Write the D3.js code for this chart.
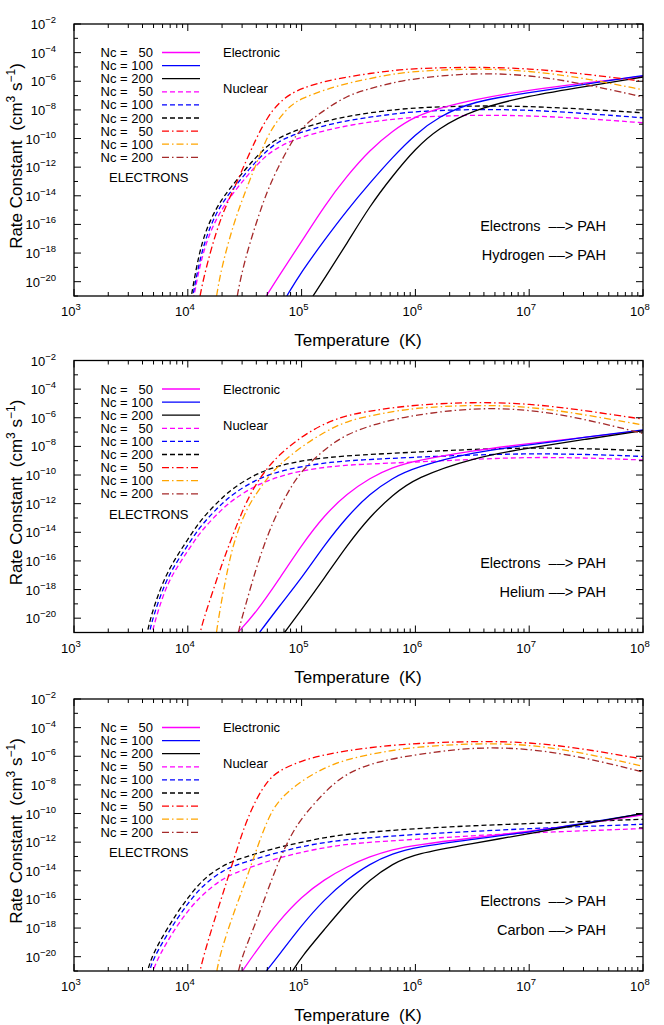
<!DOCTYPE html>
<meta charset="utf-8">
<style>
body { margin: 0; background: #fff; }
text { font-family: "Liberation Sans", Arial, sans-serif; fill: #000; }
.tick-label { font-size: 13px; }
.legend { font-size: 13px; }
.title { font-size: 17px; }
.note { font-size: 14.5px; }
.frame { fill: none; stroke: #000; stroke-width: 1.3; }
.curve { fill: none; stroke-width: 1.3; }
</style>
<svg width="664" height="1025"></svg>
<script src="https://d3js.org/d3.v7.min.js"></script>
<script>

// each series: [log10 T, log10 k] pairs
// panel 1: hydrogen
var hElec50  = [[4.69,-21],[4.8,-19.6],[5.0,-17.2],[5.2,-14.7],[5.4,-12.6],[5.6,-10.8],[5.8,-9.45],[6.0,-8.45],[6.2,-7.9],[6.5,-7.3],[7.0,-6.6],[7.5,-6.1],[8.0,-5.65]];
var hElec100 = [[4.87,-21],[5.0,-19.3],[5.2,-17.1],[5.4,-15.0],[5.6,-13.1],[5.8,-11.3],[6.0,-9.7],[6.2,-8.5],[6.5,-7.4],[7.0,-6.8],[7.5,-6.2],[8.0,-5.6]];
var hElec200 = [[5.1,-21],[5.2,-19.8],[5.4,-17.3],[5.6,-14.7],[5.8,-12.6],[6.0,-10.7],[6.2,-9.3],[6.5,-8.0],[7.0,-7.0],[7.5,-6.35],[8.0,-5.7]];
var hEl50    = [[4.0,-23.5],[4.1,-18.8],[4.2,-16.4],[4.3,-14.9],[4.4,-13.8],[4.5,-12.8],[4.6,-11.9],[4.7,-11.1],[4.8,-10.6],[4.9,-10.2],[5.0,-9.9],[5.2,-9.45],[5.4,-9.1],[5.6,-8.85],[5.8,-8.65],[6.0,-8.5],[6.5,-8.35],[7.0,-8.4],[7.5,-8.6],[8.0,-8.9]];
var hEl100   = [[4.0,-23],[4.1,-18.4],[4.2,-16.0],[4.3,-14.5],[4.4,-13.5],[4.5,-12.5],[4.6,-11.6],[4.7,-10.8],[4.8,-10.2],[4.9,-9.85],[5.0,-9.55],[5.2,-9.1],[5.4,-8.75],[5.6,-8.5],[5.8,-8.3],[6.0,-8.1],[6.5,-7.95],[7.0,-8.0],[7.5,-8.25],[8.0,-8.55]];
var hEl200   = [[4.0,-22.5],[4.1,-17.7],[4.2,-15.6],[4.3,-14.2],[4.4,-13.2],[4.5,-12.2],[4.6,-11.3],[4.7,-10.5],[4.8,-9.95],[4.9,-9.6],[5.0,-9.3],[5.2,-8.8],[5.4,-8.45],[5.6,-8.2],[5.8,-8.0],[6.0,-7.85],[6.5,-7.7],[7.0,-7.75],[7.5,-7.95],[8.0,-8.2]];
var hNuc50   = [[4.05,-24],[4.1,-21],[4.2,-17.8],[4.3,-15.3],[4.4,-13.6],[4.5,-11.8],[4.6,-10.0],[4.7,-8.5],[4.8,-7.5],[4.9,-6.9],[5.0,-6.5],[5.2,-6.0],[5.4,-5.7],[5.6,-5.45],[5.8,-5.25],[6.0,-5.1],[6.5,-5.0],[7.0,-5.1],[7.5,-5.5],[8.0,-6.0]];
var hNuc100  = [[4.2,-24],[4.25,-21],[4.3,-18.9],[4.4,-16.0],[4.5,-13.8],[4.6,-11.8],[4.7,-9.8],[4.8,-8.6],[4.9,-7.7],[5.0,-7.2],[5.2,-6.6],[5.4,-6.15],[5.6,-5.8],[5.8,-5.5],[6.0,-5.3],[6.5,-5.1],[7.0,-5.25],[7.5,-5.8],[8.0,-6.6]];
var hNuc200  = [[4.4,-23],[4.43,-21],[4.5,-18.5],[4.6,-15.9],[4.7,-13.6],[4.8,-11.9],[4.9,-10.4],[5.0,-9.2],[5.2,-8.0],[5.4,-7.0],[5.6,-6.5],[5.8,-6.1],[6.0,-5.8],[6.5,-5.4],[7.0,-5.55],[7.5,-6.2],[8.0,-7.1]];

// panel 2: helium
var heElec50  = [[4.44,-21],[4.6,-19.6],[4.8,-17.3],[5.0,-14.9],[5.2,-12.8],[5.4,-11.3],[5.6,-10.2],[5.8,-9.45],[6.0,-9.0],[6.5,-8.3],[7.0,-7.8],[7.5,-7.35],[8.0,-6.9]];
var heElec100 = [[4.63,-21],[4.8,-19.2],[5.0,-17.2],[5.2,-14.9],[5.4,-12.9],[5.6,-11.3],[5.8,-10.2],[6.0,-9.45],[6.5,-8.4],[7.0,-7.9],[7.5,-7.35],[8.0,-6.85]];
var heElec200 = [[4.85,-21],[5.0,-19.4],[5.2,-17.2],[5.4,-14.9],[5.6,-12.9],[5.8,-11.4],[6.0,-10.2],[6.5,-8.8],[7.0,-8.1],[7.5,-7.5],[8.0,-6.9]];
var heEl50    = [[3.64,-23],[3.68,-21],[3.8,-17.9],[3.9,-16.5],[4.0,-15.3],[4.1,-14.1],[4.2,-13.2],[4.3,-12.4],[4.4,-11.7],[4.6,-10.7],[4.8,-10.1],[5.0,-9.7],[5.25,-9.4],[5.5,-9.25],[6.0,-9.1],[6.5,-8.9],[7.0,-8.75],[7.5,-8.8],[8.0,-8.95]];
var heEl100   = [[3.62,-23],[3.66,-21],[3.7,-19.8],[3.8,-17.5],[3.9,-16.1],[4.0,-14.9],[4.1,-13.7],[4.2,-12.8],[4.3,-12.0],[4.4,-11.3],[4.6,-10.3],[4.8,-9.75],[5.0,-9.4],[5.25,-9.1],[5.5,-8.95],[6.0,-8.75],[6.5,-8.6],[7.0,-8.5],[7.5,-8.55],[8.0,-8.7]];
var heEl200   = [[3.6,-23],[3.64,-21],[3.7,-19.2],[3.8,-17.1],[3.9,-15.7],[4.0,-14.5],[4.1,-13.3],[4.2,-12.4],[4.3,-11.6],[4.4,-10.9],[4.6,-9.9],[4.8,-9.35],[5.0,-9.0],[5.25,-8.75],[5.5,-8.6],[6.0,-8.4],[6.5,-8.2],[7.0,-8.1],[7.5,-8.15],[8.0,-8.3]];
var heNuc50   = [[4.05,-23.5],[4.1,-21],[4.2,-18.6],[4.3,-16.2],[4.4,-14.1],[4.5,-12.1],[4.6,-10.6],[4.7,-9.5],[4.8,-8.6],[5.0,-7.3],[5.2,-6.4],[5.4,-5.8],[5.7,-5.4],[6.0,-5.1],[6.5,-4.9],[7.0,-5.0],[7.5,-5.5],[8.0,-6.1]];
var heNuc100  = [[4.2,-24],[4.25,-21],[4.3,-18.6],[4.35,-16.6],[4.4,-14.8],[4.5,-12.6],[4.6,-11.3],[4.7,-10.2],[4.8,-9.3],[5.0,-8.0],[5.2,-7.0],[5.4,-6.2],[5.7,-5.7],[6.0,-5.3],[6.5,-5.1],[7.0,-5.2],[7.5,-5.8],[8.0,-6.5]];
var heNuc200  = [[4.4,-23],[4.44,-21],[4.5,-19.3],[4.6,-16.5],[4.7,-14.2],[4.8,-12.4],[4.9,-10.9],[5.0,-9.7],[5.2,-8.2],[5.4,-7.1],[5.7,-6.3],[6.0,-5.8],[6.5,-5.3],[7.0,-5.4],[7.5,-6.1],[8.0,-7.1]];

// panel 3: carbon
var cElec50  = [[4.48,-21],[4.6,-19.6],[4.8,-17.5],[5.0,-15.8],[5.2,-14.6],[5.4,-13.7],[5.6,-13.0],[5.8,-12.5],[6.0,-12.2],[6.5,-11.7],[7.0,-11.25],[7.5,-10.7],[8.0,-10.1]];
var cElec100 = [[4.69,-21],[4.8,-19.9],[5.0,-17.8],[5.2,-16.0],[5.4,-14.6],[5.6,-13.5],[5.8,-12.8],[6.0,-12.35],[6.5,-11.8],[7.0,-11.3],[7.5,-10.65],[8.0,-10.0]];
var cElec200 = [[4.92,-21],[5.0,-20.0],[5.2,-18.1],[5.4,-16.2],[5.6,-14.6],[5.8,-13.5],[6.0,-12.8],[6.5,-12.1],[7.0,-11.4],[7.5,-10.7],[8.0,-10.0]];
var cEl50    = [[3.64,-23],[3.68,-21],[3.8,-19.2],[3.9,-17.9],[4.0,-16.8],[4.1,-15.9],[4.2,-15.2],[4.3,-14.6],[4.4,-14.2],[4.6,-13.6],[4.8,-13.1],[5.0,-12.7],[5.25,-12.3],[5.5,-12.05],[6.0,-11.8],[6.5,-11.55],[7.0,-11.35],[7.5,-11.2],[8.0,-11.05]];
var cEl100   = [[3.62,-23],[3.66,-21],[3.7,-20.1],[3.8,-18.7],[3.9,-17.4],[4.0,-16.3],[4.1,-15.3],[4.2,-14.6],[4.3,-14.05],[4.4,-13.65],[4.6,-13.15],[4.8,-12.7],[5.0,-12.3],[5.25,-11.95],[5.5,-11.75],[6.0,-11.45],[6.5,-11.25],[7.0,-11.05],[7.5,-10.9],[8.0,-10.75]];
var cEl200   = [[3.6,-23],[3.64,-21],[3.7,-19.7],[3.8,-18.3],[3.9,-17.0],[4.0,-15.9],[4.1,-14.9],[4.2,-14.2],[4.3,-13.7],[4.4,-13.3],[4.6,-12.8],[4.8,-12.35],[5.0,-12.0],[5.25,-11.6],[5.5,-11.35],[6.0,-11.05],[6.5,-10.85],[7.0,-10.7],[7.5,-10.55],[8.0,-10.4]];
var cNuc50   = [[4.05,-23.5],[4.1,-21],[4.2,-18.3],[4.3,-15.8],[4.4,-13.3],[4.5,-10.8],[4.6,-9.0],[4.7,-7.7],[4.8,-7.0],[5.0,-6.3],[5.2,-5.9],[5.4,-5.6],[5.7,-5.3],[6.0,-5.1],[6.5,-4.95],[7.0,-5.0],[7.5,-5.5],[8.0,-6.2]];
var cNuc100  = [[4.2,-24],[4.25,-21],[4.3,-19.4],[4.4,-17.0],[4.5,-14.9],[4.6,-12.6],[4.7,-10.4],[4.8,-9.0],[5.0,-7.7],[5.2,-6.8],[5.4,-6.2],[5.7,-5.7],[6.0,-5.35],[6.5,-5.1],[7.0,-5.15],[7.5,-5.8],[8.0,-6.7]];
var cNuc200  = [[4.4,-23],[4.44,-21],[4.5,-19.5],[4.6,-17.6],[4.7,-15.4],[4.8,-13.3],[4.9,-11.6],[5.0,-10.3],[5.2,-8.5],[5.4,-7.1],[5.7,-6.3],[6.0,-5.9],[6.5,-5.35],[7.0,-5.45],[7.5,-6.1],[8.0,-7.1]];

var ncLabels = ["Nc =   50", "Nc = 100", "Nc = 200"];
var colours = {elec: ["#ff00ff", "#0000ff", "#000000"], el: ["#ff00ff", "#0000ff", "#000000"], nuc: ["#ff0000", "#ffa500", "#a52a2a"]};
var dashes = {elec: null, el: "5,3", nuc: "7,3,1.5,3"};
var panels = [
  {target: "Hydrogen", series: {elec: [hElec50, hElec100, hElec200], el: [hEl50, hEl100, hEl200], nuc: [hNuc50, hNuc100, hNuc200]}},
  {target: "Helium", series: {elec: [heElec50, heElec100, heElec200], el: [heEl50, heEl100, heEl200], nuc: [heNuc50, heNuc100, heNuc200]}},
  {target: "Carbon", series: {elec: [cElec50, cElec100, cElec200], el: [cEl50, cEl100, cEl200], nuc: [cNuc50, cNuc100, cNuc200]}}
];

var svg = d3.select("svg"),
    left = 74, right = 643, ph = 272,
    tops = [24, 360.5, 699];

var x = d3.scaleLinear().domain([3, 8]).range([left, right]);

panels.forEach(function(p, i) {
  var top = tops[i], bottom = top + ph;
  var y = d3.scaleLinear().domain([-21, -2]).range([bottom, top]);
  var g = svg.append("g");

  g.append("clipPath").attr("id", "clip" + i)
    .append("rect").attr("x", left).attr("y", top).attr("width", right - left).attr("height", ph);

  var line = d3.line().x(function(d) { return x(d[0]); }).y(function(d) { return y(d[1]); })
      .curve(d3.curveBasis);

  var cg = g.append("g").attr("clip-path", "url(#clip" + i + ")");
  ["el", "elec", "nuc"].forEach(function(kind) {
    p.series[kind].forEach(function(s, j) {
      cg.append("path").attr("class", "curve")
        .attr("d", line(s))
        .attr("stroke", colours[kind][j])
        .attr("stroke-dasharray", dashes[kind]);
    });
  });

  // ticks on all four sides
  var ticks = g.append("g").attr("stroke", "#000").attr("stroke-width", 1);
  for (var e = 3; e <= 8; e++) {
    for (var m = 1; m <= 9; m++) {
      if (e == 8 && m > 1) break;
      var xv = x(e + Math.log10(m)), len = m == 1 ? 7 : 4;
      ticks.append("line").attr("x1", xv).attr("x2", xv).attr("y1", bottom).attr("y2", bottom - len);
      ticks.append("line").attr("x1", xv).attr("x2", xv).attr("y1", top).attr("y2", top + len);
    }
    var lab = g.append("text").attr("class", "tick-label").attr("x", x(e) - 3).attr("y", bottom + 20)
      .attr("text-anchor", "middle").text("10");
    lab.append("tspan").attr("dy", -6).attr("font-size", "9.5px").text(e);
  }
  for (var v = -21; v <= -2; v++) {
    var yv = y(v), len2 = v % 2 == 0 ? 7 : 4;
    ticks.append("line").attr("x1", left).attr("x2", left + len2).attr("y1", yv).attr("y2", yv);
    ticks.append("line").attr("x1", right).attr("x2", right - len2).attr("y1", yv).attr("y2", yv);
    if (v % 2 == 0) {
      var yl = g.append("text").attr("class", "tick-label").attr("x", 56).attr("y", yv + 5)
        .attr("text-anchor", "end").text("10");
      yl.append("tspan").attr("dy", -6).attr("font-size", "9.5px").text("\u2212" + (-v));
    }
  }
  g.append("rect").attr("class", "frame").attr("x", left).attr("y", top).attr("width", right - left).attr("height", ph);

  // axis titles
  g.append("text").attr("class", "title").attr("x", 358).attr("y", bottom + 50)
    .attr("text-anchor", "middle").attr("xml:space", "preserve").text("Temperature  (K)");
  var yt = g.append("text").attr("class", "title").attr("xml:space", "preserve")
    .attr("transform", "translate(22," + (top + ph / 2 - 4) + ") rotate(-90)")
    .attr("text-anchor", "middle").text("Rate Constant  (cm");
  yt.append("tspan").attr("dy", -7).attr("font-size", "12px").text("3");
  yt.append("tspan").attr("dy", 7).text(" s");
  yt.append("tspan").attr("dy", -7).attr("font-size", "12px").text("\u22121");
  yt.append("tspan").attr("dy", 7).text(")");

  // legend
  var rows = [];
  ["elec", "el", "nuc"].forEach(function(kind) {
    ncLabels.forEach(function(l, j) { rows.push({label: l, kind: kind, j: j}); });
  });
  rows.forEach(function(r, k) {
    var ly = top + 28.5 + k * 13.1;
    g.append("text").attr("class", "legend").attr("x", 153).attr("y", ly + 4.5)
      .attr("text-anchor", "end").attr("xml:space", "preserve").text(r.label);
    g.append("line").attr("x1", 162).attr("x2", 200).attr("y1", ly).attr("y2", ly)
      .attr("stroke", colours[r.kind][r.j]).attr("stroke-width", 1.3)
      .attr("stroke-dasharray", dashes[r.kind]);
  });
  g.append("text").attr("class", "legend").attr("x", 223).attr("y", top + 33).text("Electronic");
  g.append("text").attr("class", "legend").attr("x", 223).attr("y", top + 69).text("Nuclear");
  g.append("text").attr("class", "legend").attr("x", 109).attr("y", top + 158).text("ELECTRONS");

  g.append("text").attr("class", "note").attr("x", 606).attr("y", top + 207)
    .attr("text-anchor", "end").attr("xml:space", "preserve").text("Electrons  \u2013\u2013> PAH");
  g.append("text").attr("class", "note").attr("x", 606).attr("y", top + 236)
    .attr("text-anchor", "end").text(p.target + " \u2013\u2013> PAH");
});

</script>
